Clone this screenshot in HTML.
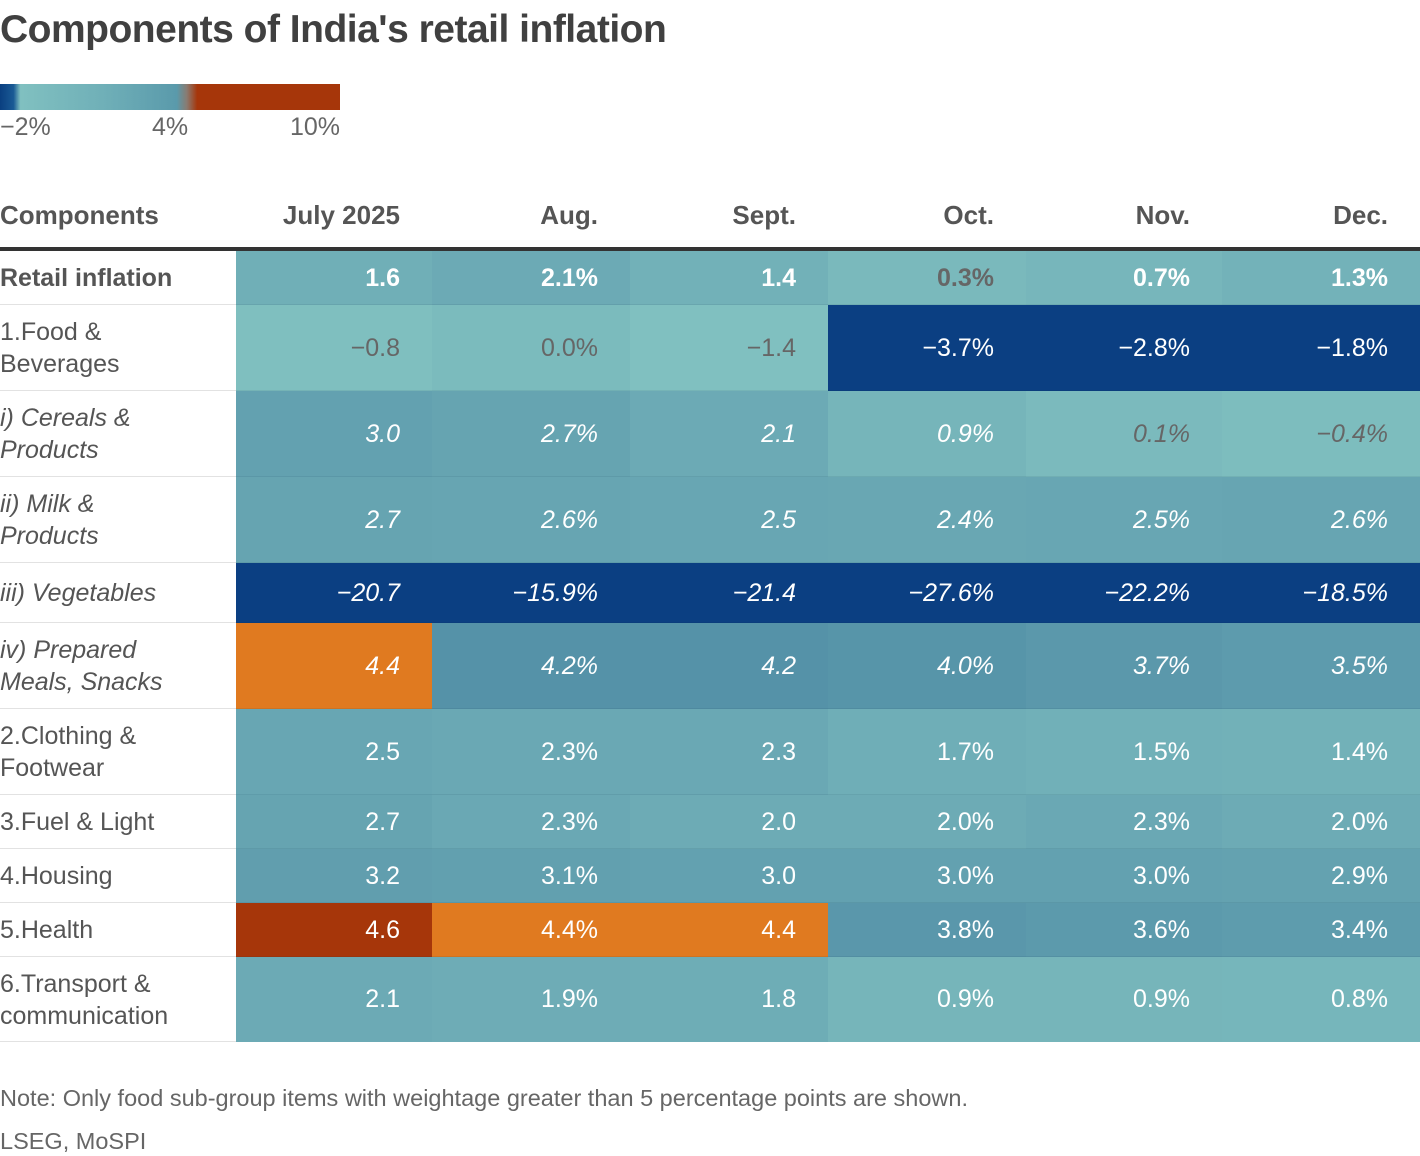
<!DOCTYPE html>
<html><head><meta charset="utf-8">
<style>
body{margin:0;width:1420px;height:1156px;background:#fff;font-family:"Liberation Sans",sans-serif;color:#404040;position:relative;overflow:hidden}
.a{position:absolute}
.title{left:0;top:8px;font-size:39px;font-weight:bold;color:#404040;letter-spacing:-0.5px}
.hd{top:200px;font-size:26px;font-weight:bold;color:#555}
.lbl{left:0;font-size:25px;color:#555;line-height:32px}
.cell{font-size:25px;text-align:right;box-sizing:border-box;padding-right:32px;display:flex;align-items:center;justify-content:flex-end}
.note{left:0;font-size:23.5px;color:#666}
</style></head><body>
<div class="a title">Components of India's retail inflation</div>
<div class="a" style="left:0;top:84px;width:340px;height:26px;background:linear-gradient(to right,#0a3f80 0%,#1a5a95 4%,#80c0c0 6%,#70b0b8 30%,#5a9aab 52%,#8a7a70 55%,#a6360a 58%,#a6360a 100%)"></div>
<div class="a" style="left:0;top:113px;font-size:25px;color:#666">−2%</div>
<div class="a" style="left:152px;top:113px;font-size:25px;color:#666">4%</div>
<div class="a" style="left:290px;top:113px;font-size:25px;color:#666">10%</div>
<div class="a hd" style="left:0">Components</div>
<div id="hds"></div>
<div class="a" style="left:0;top:247px;width:1420px;height:4px;background:#333"></div>
<div id="t"></div>
<div class="a note" style="top:1085px">Note: Only food sub-group items with weightage greater than 5 percentage points are shown.</div>
<div class="a note" style="top:1128px">LSEG, MoSPI</div>
<script>
var cols=[236,432,630,828,1026,1222,1420];
var heads=["July 2025","Aug.","Sept.","Oct.","Nov.","Dec."];
var h="";
for(var i=0;i<6;i++)h+='<div class="a hd" style="left:'+cols[i]+'px;width:'+(cols[i+1]-cols[i]-32)+'px;text-align:right">'+heads[i]+'</div>';
document.getElementById('hds').innerHTML=h;
var rows=[
["Retail inflation",[1.6,2.1,1.4,0.3,0.7,1.3],["1.6","2.1%","1.4","0.3%","0.7%","1.3%"],251,305,"b"],
["1.Food &amp;<br>Beverages",[-0.8,0,-1.4,-3.7,-2.8,-1.8],["−0.8","0.0%","−1.4","−3.7%","−2.8%","−1.8%"],305,391,""],
["i) Cereals &amp;<br>Products",[3.0,2.7,2.1,0.9,0.1,-0.4],["3.0","2.7%","2.1","0.9%","0.1%","−0.4%"],391,477,"i"],
["ii) Milk &amp;<br>Products",[2.7,2.6,2.5,2.4,2.5,2.6],["2.7","2.6%","2.5","2.4%","2.5%","2.6%"],477,563,"i"],
["iii) Vegetables",[-20.7,-15.9,-21.4,-27.6,-22.2,-18.5],["−20.7","−15.9%","−21.4","−27.6%","−22.2%","−18.5%"],563,623,"i"],
["iv) Prepared<br>Meals, Snacks",[4.4,4.2,4.2,4.0,3.7,3.5],["4.4","4.2%","4.2","4.0%","3.7%","3.5%"],623,709,"i"],
["2.Clothing &amp;<br>Footwear",[2.5,2.3,2.3,1.7,1.5,1.4],["2.5","2.3%","2.3","1.7%","1.5%","1.4%"],709,795,""],
["3.Fuel &amp; Light",[2.7,2.3,2.0,2.0,2.3,2.0],["2.7","2.3%","2.0","2.0%","2.3%","2.0%"],795,849,""],
["4.Housing",[3.2,3.1,3.0,3.0,3.0,2.9],["3.2","3.1%","3.0","3.0%","3.0%","2.9%"],849,903,""],
["5.Health",[4.6,4.4,4.4,3.8,3.6,3.4],["4.6","4.4%","4.4","3.8%","3.6%","3.4%"],903,957,""],
["6.Transport &amp;<br>communication",[2.1,1.9,1.8,0.9,0.9,0.8],["2.1","1.9%","1.8","0.9%","0.9%","0.8%"],957,1042,""]
];
function col(v,r,c){
 if(r==5&&c==0)return"#e07a20";
 if(v>=4.5)return"#a6360a";
 if(v>=4.3)return"#e07a20";
 if(v<=-1.7)return"#0b3f82";
 var t=(v+1.4)/5.6;if(t<0)t=0;if(t>1)t=1;t=Math.pow(t,1.6);
 var a=[0x80,0xc0,0xc0],b=[0x55,0x92,0xa8];
 return"rgb("+a.map(function(x,k){return Math.round(x+(b[k]-x)*t)}).join(",")+")";
}
var s="";
rows.forEach(function(r,ri){
 var y0=r[3],y1=r[4],hh=y1-y0;
 var st=r[5]=="b"?"font-weight:bold;":r[5]=="i"?"font-style:italic;":"";
 s+='<div class="a lbl" style="top:'+y0+'px;height:'+hh+'px;display:flex;align-items:center;'+st+'">'+r[0]+'</div>';
 s+='<div class="a" style="left:0;top:'+(y1-1)+'px;width:236px;height:1px;background:#e2e2e2"></div>';
 for(var c=0;c<6;c++){
  var v=r[1][c];var light=(v>-1.7&&v<0.5);
  var fc=light?"#666":"#fff";
  s+='<div class="a cell" style="left:'+cols[c]+'px;top:'+y0+'px;width:'+(cols[c+1]-cols[c])+'px;height:'+hh+'px;background:'+col(v,ri,c)+';color:'+fc+';'+st+'">'+r[2][c]+'</div>';
 }
 if(ri<rows.length-1)s+='<div class="a" style="left:236px;top:'+(y1-1)+'px;width:1184px;height:2px;background:rgba(0,40,60,0.08)"></div>';
});
document.getElementById('t').innerHTML=s;
</script>
</body></html>
